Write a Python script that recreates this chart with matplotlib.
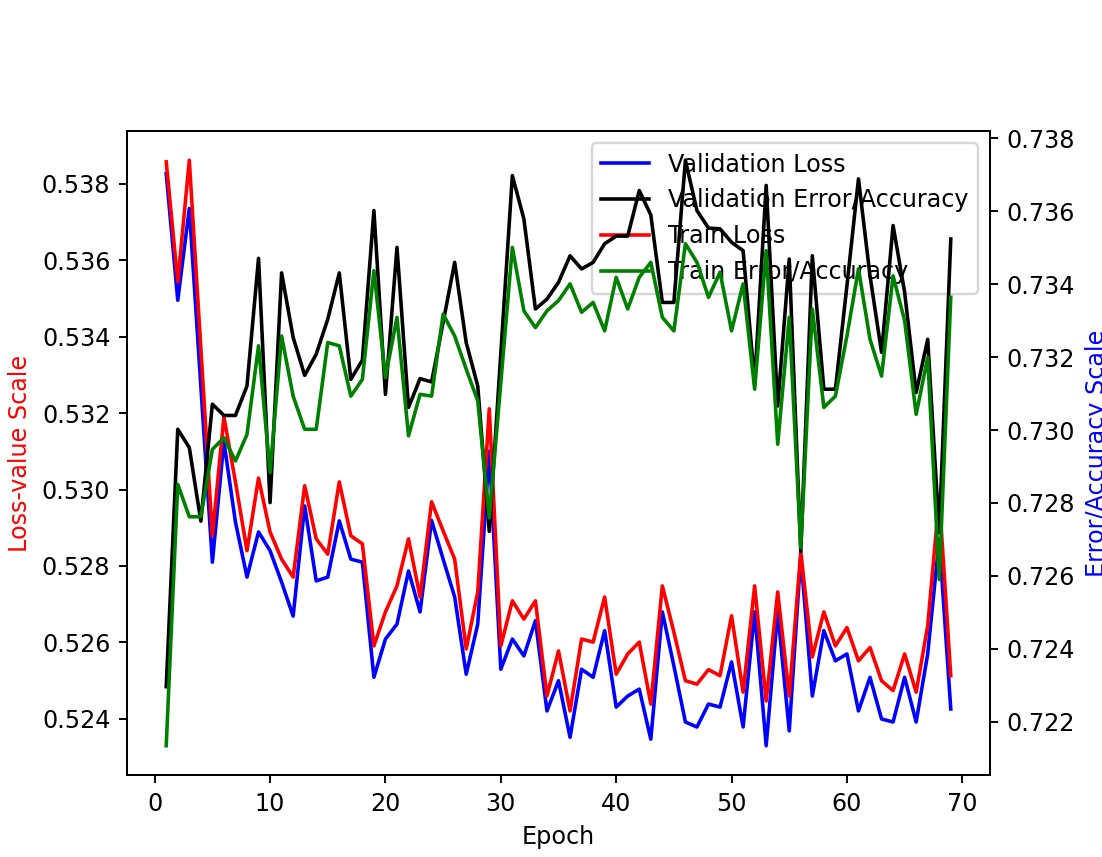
import matplotlib
matplotlib.use('Agg')
import matplotlib.pyplot as plt

epochs = list(range(1, 70))

val_loss = [0.53826, 0.53495, 0.53735, 0.53270, 0.52810, 0.53125, 0.52915, 0.52771, 0.52889, 0.52840,
            0.52758, 0.52669, 0.52957, 0.52761, 0.52771, 0.52918, 0.52818, 0.52810, 0.52509, 0.52609,
            0.52648, 0.52787, 0.52680, 0.52919, 0.52818, 0.52719, 0.52517, 0.52648, 0.53100, 0.52530,
            0.52609, 0.52565, 0.52657, 0.52421, 0.52500, 0.52352, 0.52530, 0.52509, 0.52631, 0.52431,
            0.52460, 0.52478, 0.52347, 0.52680, 0.52539, 0.52392, 0.52379, 0.52439, 0.52431, 0.52549,
            0.52379, 0.52680, 0.52330, 0.52680, 0.52369, 0.52827, 0.52460, 0.52631, 0.52552, 0.52570,
            0.52421, 0.52509, 0.52400, 0.52392, 0.52509, 0.52392, 0.52570, 0.52870, 0.52426]

train_loss = [0.53857, 0.53543, 0.53861, 0.53370, 0.52879, 0.53190, 0.53020, 0.52840, 0.53030, 0.52889,
              0.52818, 0.52771, 0.53010, 0.52871, 0.52831, 0.53020, 0.52879, 0.52858, 0.52591, 0.52680,
              0.52748, 0.52871, 0.52719, 0.52968, 0.52892, 0.52818, 0.52583, 0.52732, 0.53211, 0.52591,
              0.52709, 0.52661, 0.52709, 0.52460, 0.52578, 0.52421, 0.52609, 0.52601, 0.52719, 0.52517,
              0.52570, 0.52601, 0.52439, 0.52748, 0.52627, 0.52500, 0.52491, 0.52529, 0.52513, 0.52670,
              0.52470, 0.52748, 0.52447, 0.52732, 0.52460, 0.52837, 0.52562, 0.52680, 0.52591, 0.52639,
              0.52552, 0.52587, 0.52500, 0.52474, 0.52570, 0.52470, 0.52644, 0.52980, 0.52513]

val_acc = [0.72296, 0.73002, 0.72952, 0.72750, 0.73071, 0.73040, 0.73040, 0.73121, 0.73471, 0.72801,
           0.73431, 0.73254, 0.73150, 0.73208, 0.73304, 0.73431, 0.73139, 0.73192, 0.73602, 0.73098,
           0.73501, 0.73062, 0.73141, 0.73132, 0.73295, 0.73460, 0.73240, 0.73121, 0.72722, 0.73210,
           0.73698, 0.73579, 0.73332, 0.73359, 0.73405, 0.73478, 0.73442, 0.73460, 0.73511, 0.73532,
           0.73532, 0.73657, 0.73590, 0.73350, 0.73350, 0.73740, 0.73602, 0.73554, 0.73552, 0.73515,
           0.73492, 0.73130, 0.73671, 0.73066, 0.73469, 0.72667, 0.73478, 0.73112, 0.73112, 0.73396,
           0.73689, 0.73423, 0.73213, 0.73561, 0.73378, 0.73103, 0.73249, 0.72719, 0.73524]

train_acc = [0.72134, 0.72851, 0.72762, 0.72762, 0.72947, 0.72979, 0.72915, 0.72988, 0.73231, 0.72883,
             0.73258, 0.73093, 0.73002, 0.73002, 0.73240, 0.73231, 0.73093, 0.73139, 0.73437, 0.73144,
             0.73309, 0.72984, 0.73098, 0.73093, 0.73318, 0.73258, 0.73167, 0.73080, 0.72759, 0.73130,
             0.73501, 0.73327, 0.73281, 0.73327, 0.73355, 0.73401, 0.73323, 0.73350, 0.73272, 0.73419,
             0.73332, 0.73419, 0.73460, 0.73309, 0.73272, 0.73511, 0.73460, 0.73364, 0.73433, 0.73272,
             0.73401, 0.73112, 0.73492, 0.72961, 0.73309, 0.72677, 0.73332, 0.73062, 0.73093, 0.73258,
             0.73442, 0.73249, 0.73148, 0.73423, 0.73300, 0.73043, 0.73199, 0.72590, 0.73364]

fig = plt.figure(figsize=(1102 / 172, 857 / 172), dpi=172)
fig.subplots_adjust(left=127 / 1102, right=990 / 1102, top=1 - 131 / 857, bottom=1 - 775 / 857)
ax1 = fig.add_subplot(111)

l1, = ax1.plot(epochs, val_loss, 'b', label='Validation Loss')
l3, = ax1.plot(epochs, train_loss, 'r', label='Train Loss')
ax1.set_xlabel('Epoch')
ax1.set_ylabel('Loss-value Scale', color='r')

ax2 = ax1.twinx()
l2, = ax2.plot(epochs, val_acc, 'k', label='Validation Error/Accuracy')
l4, = ax2.plot(epochs, train_acc, 'g', label='Train Error/Accuracy')
ax2.set_ylabel('Error/Accuracy Scale', color='b')

ax1.legend(handles=[l1, l2, l3, l4], loc='upper right')

fig.savefig('out.png', dpi=172)
